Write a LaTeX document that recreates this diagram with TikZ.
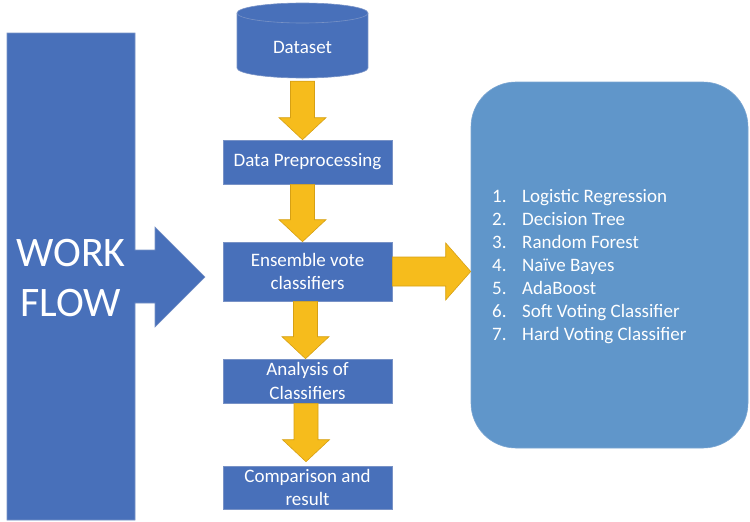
\documentclass[tikz,border=0pt]{standalone}
\usepackage{fontspec}
\setmainfont{Carlito}
\usetikzlibrary{calc}

\definecolor{boxblue}{RGB}{72,112,186}
\definecolor{boxedge}{RGB}{120,146,198}
\definecolor{listblue}{RGB}{96,150,202}
\definecolor{listedge}{RGB}{124,166,210}
\definecolor{arrowyellow}{RGB}{246,188,28}
\definecolor{arrowedge}{RGB}{214,160,20}

\tikzset{
  stepbox/.style={rectangle, fill=boxblue, draw=boxedge, line width=0.6pt,
    minimum width=169pt, text=white, align=center, inner sep=0pt,
    font=\fontsize{19}{23.5}\selectfont},
  fatarrow/.style={fill=arrowyellow, draw=arrowedge, line width=0.6pt, line join=miter},
  blueshape/.style={fill=boxblue, draw=boxedge, line width=0.6pt},
}

% downward block arrow from #1 to the level of #2
\newcommand\dropArrow[2]{%
  \path[fatarrow] let \p1=(#1), \p2=(#2) in
    (\x1-12pt,\y1) -- (\x1-12pt,\y2+22pt) -- (\x1-23.5pt,\y2+22pt) -- (\x1,\y2)
    -- (\x1+23.5pt,\y2+22pt) -- (\x1+12pt,\y2+22pt) -- (\x1+12pt,\y1) -- cycle;}

\begin{document}
\begin{tikzpicture}[x=1pt, y=-1pt]
\useasboundingbox (0,0) rectangle (750,522);

% left banner with arrow
\draw[blueshape] (7,33) -- (135,33) -- (135,250) -- (155,250) -- (155,227)
  -- (205,277) -- (155,327) -- (155,303) -- (135,303) -- (135,520) -- (7,520) -- cycle;
\node[text=white, align=center, font=\fontsize{42}{50}\selectfont] (wf) at (71,278) {WORK\\FLOW};

% dataset cylinder
\fill[boxblue] (237,13) rectangle (368,68);
\fill[boxblue] (302.5,68) ellipse[x radius=65.5, y radius=10];
\draw[boxedge, line width=0.6pt] (237,13) -- (237,68)
  arc[start angle=180, end angle=0, x radius=65.5, y radius=10] -- (368,13);
\draw[boxedge, line width=0.6pt, fill=boxblue] (302.5,13) ellipse[x radius=65.5, y radius=10];
\node[text=white, font=\fontsize{19}{22}\selectfont, minimum width=131pt, minimum height=60pt] (ds) at (302.5,47) {Dataset};

% process steps
\node[stepbox, minimum height=44pt] (dp)  at (307.5,162)   {Data Preprocessing};
\node[stepbox, minimum height=59pt] (ens) at (307.5,271.5) {Ensemble vote\\classifiers};
\node[stepbox, minimum height=44pt] (ana) at (307.5,381)   {Analysis of\\Classifiers};
\node[stepbox, minimum height=43pt] (cmp) at (307.5,487.5) {Comparison and\\result};

% classifier list panel
\node[fill=listblue, draw=listedge, line width=0.6pt, rounded corners=45pt,
  minimum width=277pt, minimum height=366pt] (cls) at (609.5,265) {};
\node[anchor=west, text=white, align=left, inner sep=0pt,
  font=\fontsize{19}{23}\selectfont] (lst) at (492,267) {%
  \makebox[30pt][l]{1.}Logistic Regression\\
  \makebox[30pt][l]{2.}Decision Tree\\
  \makebox[30pt][l]{3.}Random Forest\\
  \makebox[30pt][l]{4.}Naïve Bayes\\
  \makebox[30pt][l]{5.}AdaBoost\\
  \makebox[30pt][l]{6.}Soft Voting Classifier\\
  \makebox[30pt][l]{7.}Hard Voting Classifier};

% flow arrows
\dropArrow{[yshift=-4pt]ds.south}{dp.north}
\dropArrow{[xshift=-5pt]dp.south}{ens.north}
\dropArrow{[xshift=-2pt]ens.south}{ana.north}
\dropArrow{[xshift=-1.5pt]ana.south}{[yshift=4pt]cmp.north}

\path[fatarrow] let \p1=(ens.east), \p2=(cls.west) in
  (\x1,\y1+14.5pt) -- (\x2-25pt,\y1+14.5pt) -- (\x2-25pt,\y1+28.5pt) -- (\x2,\y1)
  -- (\x2-25pt,\y1-28.5pt) -- (\x2-25pt,\y1-14.5pt) -- (\x1,\y1-14.5pt) -- cycle;
\end{tikzpicture}
\end{document}
